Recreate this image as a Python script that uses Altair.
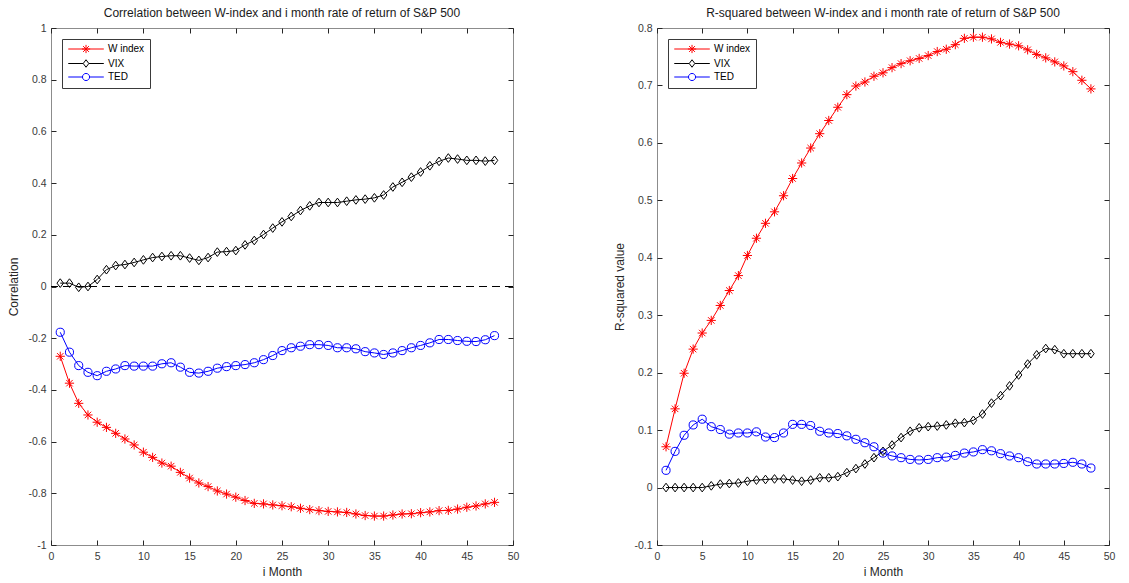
import altair as alt
import pandas as pd

months = list(range(1, 49))
series_names = ["W index", "VIX", "TED"]
series_colors = ["#ff0000", "#000000", "#0000ff"]

corr_w = [-0.270, -0.374, -0.452, -0.497, -0.525, -0.545, -0.568, -0.590, -0.613, -0.641,
          -0.661, -0.683, -0.695, -0.719, -0.741, -0.760, -0.774, -0.791, -0.803, -0.815,
          -0.828, -0.839, -0.841, -0.845, -0.848, -0.852, -0.858, -0.863, -0.867, -0.870,
          -0.872, -0.874, -0.880, -0.886, -0.888, -0.888, -0.884, -0.880, -0.879, -0.875,
          -0.872, -0.867, -0.866, -0.861, -0.854, -0.849, -0.841, -0.835]
corr_vix = [0.013, 0.013, -0.003, 0.000, 0.027, 0.065, 0.081, 0.085, 0.093, 0.103,
            0.112, 0.116, 0.119, 0.119, 0.110, 0.101, 0.112, 0.133, 0.135, 0.139,
            0.161, 0.178, 0.201, 0.226, 0.250, 0.271, 0.294, 0.312, 0.325, 0.325,
            0.325, 0.330, 0.335, 0.338, 0.343, 0.354, 0.385, 0.403, 0.423, 0.443,
            0.467, 0.484, 0.497, 0.493, 0.488, 0.488, 0.485, 0.488]
corr_ted = [-0.177, -0.254, -0.306, -0.332, -0.345, -0.328, -0.319, -0.306, -0.308, -0.308,
            -0.308, -0.299, -0.295, -0.312, -0.332, -0.335, -0.328, -0.316, -0.310, -0.306,
            -0.302, -0.295, -0.283, -0.267, -0.248, -0.237, -0.231, -0.225, -0.225, -0.228,
            -0.237, -0.237, -0.241, -0.252, -0.257, -0.263, -0.257, -0.248, -0.237, -0.228,
            -0.218, -0.205, -0.205, -0.209, -0.212, -0.213, -0.206, -0.190]

r2_w = [0.071, 0.137, 0.199, 0.241, 0.269, 0.291, 0.317, 0.343, 0.369, 0.404,
        0.434, 0.460, 0.480, 0.508, 0.538, 0.565, 0.591, 0.616, 0.639, 0.662,
        0.684, 0.699, 0.706, 0.716, 0.722, 0.731, 0.738, 0.743, 0.747, 0.752,
        0.759, 0.763, 0.771, 0.782, 0.784, 0.784, 0.781, 0.775, 0.772, 0.769,
        0.762, 0.754, 0.748, 0.741, 0.734, 0.724, 0.709, 0.694]
r2_vix = [0.000, 0.000, 0.000, 0.000, 0.000, 0.003, 0.006, 0.007, 0.008, 0.011,
          0.013, 0.014, 0.015, 0.015, 0.013, 0.011, 0.013, 0.017, 0.017, 0.019,
          0.026, 0.033, 0.041, 0.052, 0.063, 0.074, 0.087, 0.098, 0.104, 0.106,
          0.107, 0.109, 0.112, 0.113, 0.117, 0.128, 0.147, 0.160, 0.177, 0.196,
          0.215, 0.231, 0.242, 0.240, 0.233, 0.233, 0.233, 0.233]
r2_ted = [0.030, 0.063, 0.091, 0.109, 0.119, 0.106, 0.101, 0.093, 0.095, 0.095,
          0.097, 0.088, 0.087, 0.095, 0.110, 0.110, 0.108, 0.098, 0.095, 0.094,
          0.090, 0.084, 0.078, 0.071, 0.060, 0.055, 0.052, 0.049, 0.048, 0.049,
          0.052, 0.053, 0.056, 0.060, 0.062, 0.066, 0.064, 0.059, 0.055, 0.052,
          0.045, 0.041, 0.041, 0.041, 0.042, 0.044, 0.041, 0.034]

x_ticks = list(range(0, 51, 5))
corr_ticks = [round(-1 + 0.2 * i, 1) for i in range(11)]
r2_ticks = [round(-0.1 + 0.1 * i, 1) for i in range(10)]

FONT = "Liberation Sans"
PW1, PW2, PH = 462, 452, 517

# marker shapes (MATLAB '*', 'd', 'o')
STAR = "M-1,0L1,0M0,-1L0,1M-0.7,-0.7L0.7,0.7M-0.7,0.7L0.7,-0.7"
DIAM = "M0,-1L0.75,0L0,1L-0.75,0Z"
data_shapes = [STAR, DIAM, "circle"]
marker_sizes = [85, 66, 52]
# legend symbols: line segment with marker
LEG_STAR = "M-1,0L8.5,0M2.65,0L4.85,0M3.75,-1.1L3.75,1.1M2.97,-0.78L4.53,0.78M2.97,0.78L4.53,-0.78"
LEG_DIAM = "M-1,0L3,0M4.5,0L8.5,0M3.75,-1L4.5,0L3.75,1L3,0Z"
LEG_CIRC = "M-1,0L2.8,0M4.7,0L8.5,0M2.8,0A0.95,0.95,0,1,1,4.7,0A0.95,0.95,0,1,1,2.8,0"
legend_shapes = [LEG_STAR, LEG_DIAM, LEG_CIRC]

neg_expr = "datum.value < 0 ? '-' + format(-datum.value, '.1~f') : format(datum.value, '.1~f')"


def long_df(w, v, t):
    rows = []
    for name, vals in zip(series_names, [w, v, t]):
        for m, val in zip(months, vals):
            rows.append({"month": m, "value": val, "series": name})
    return pd.DataFrame(rows)


def panel(df, ydomain, yticks, ytitle, title, pw, zero_line=False):
    x = alt.X("month:Q", scale=alt.Scale(domain=[0, 50], nice=False, zero=False),
              axis=alt.Axis(values=x_ticks, title="i Month", format="d", labelFlush=False,
                            gridDash=[5, PH - 10, 5, 50]))
    y = alt.Y("value:Q", scale=alt.Scale(domain=ydomain, nice=False, zero=False),
              axis=alt.Axis(values=yticks, title=ytitle, labelExpr=neg_expr, labelFlush=False,
                            gridDash=[5, pw - 10, 5, 50]))
    color_data = alt.Color("series:N", scale=alt.Scale(domain=series_names, range=series_colors),
                           legend=None)
    base = alt.Chart(df)
    lines = base.mark_line(strokeWidth=1).encode(x=x, y=y, color=color_data,
                                                 detail="series:N")
    pts = base.mark_point(filled=False, strokeWidth=1, opacity=1).encode(
        x=x, y=y, color=color_data,
        shape=alt.Shape("series:N", scale=alt.Scale(domain=series_names, range=data_shapes),
                        legend=None),
        size=alt.Size("series:N", scale=alt.Scale(domain=series_names, range=marker_sizes),
                      legend=None))
    leg = alt.Legend(title=None, orient="top-left", offset=11, padding=5,
                     strokeColor="#3a3a3a", fillColor="#ffffff",
                     labelFont=FONT, labelFontSize=10, labelColor="#000000",
                     symbolSize=56, symbolStrokeWidth=1, labelOffset=31,
                     rowPadding=1.5, symbolFillColor="transparent")
    leg_layer = base.mark_point(filled=False, strokeWidth=1, size=56, opacity=0).encode(
        x=x, y=y,
        color=alt.Color("series:N", scale=alt.Scale(domain=series_names, range=series_colors),
                        legend=leg),
        shape=alt.Shape("series:N", scale=alt.Scale(domain=series_names, range=legend_shapes),
                        legend=leg))
    layers = []
    if zero_line:
        zl = alt.Chart(pd.DataFrame({"z": [0]})).mark_rule(
            color="#000000", strokeWidth=1, strokeDash=[8, 5]).encode(
            y=alt.Y("z:Q", scale=alt.Scale(domain=ydomain, nice=False, zero=False)))
        layers.append(zl)
    layers += [lines, pts, leg_layer]
    ch = alt.layer(*layers).resolve_scale(color="independent", shape="independent",
                                          size="independent")
    return ch.properties(
        width=pw, height=PH,
        title=alt.TitleParams(title, fontSize=12, fontWeight="normal", font=FONT,
                              color="#1a1a1a", anchor="middle", offset=3))


left = panel(long_df(corr_w, corr_vix, corr_ted), [-1, 1], corr_ticks, "Correlation",
             "Correlation between W-index and i month rate of return of S&P 500", PW1,
             zero_line=True)
right = panel(long_df(r2_w, r2_vix, r2_ted), [-0.1, 0.8], r2_ticks, "R-squared value",
              "R-squared between W-index and i month rate of return of S&P 500", PW2)

chart = alt.hconcat(left, right, spacing=86).properties(
    padding={"left": 7, "top": 6, "right": 5, "bottom": 0}
).configure_view(stroke="#8c8c8c", strokeWidth=1).configure_axis(
    domain=False, ticks=False, tickSize=0, grid=True, gridColor="#262626", gridWidth=1,
    labelFont=FONT, labelFontSize=10.5, labelColor="#3a3a3a",
    titleFont=FONT, titleFontSize=12, titleFontWeight="normal", titleColor="#262626",
    labelPadding=5
).configure_axisX(titlePadding=5, labelPadding=6).configure_axisY(titlePadding=7)

chart.save("out.html", embed_options={"renderer": "svg", "actions": False})
